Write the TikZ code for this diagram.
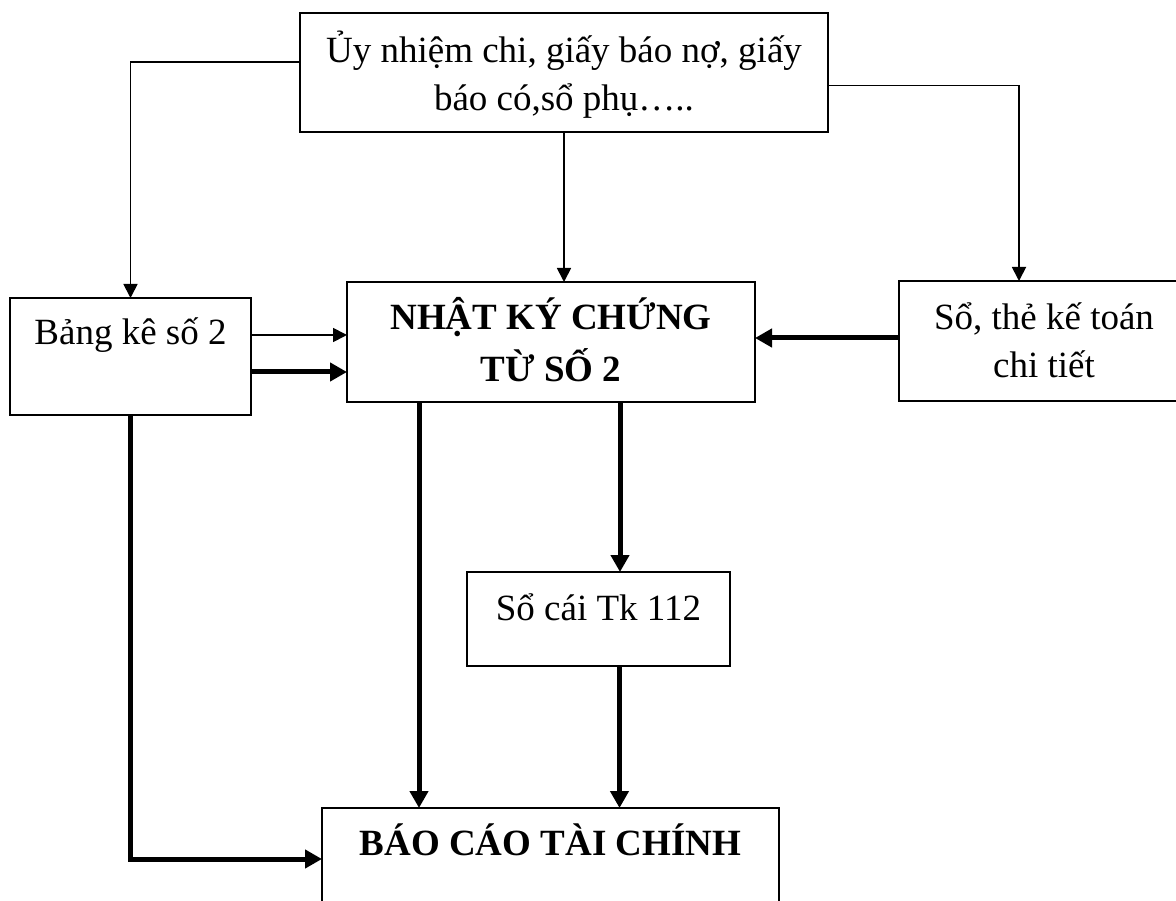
\documentclass[tikz,border=0pt]{standalone}
\usepackage{fontspec}
\setmainfont{Liberation Serif}
\usetikzlibrary{arrows.meta}
\newcommand{\tl}[1]{\begin{tabular}[t]{@{}c@{}}#1\end{tabular}}
\begin{document}
\begin{tikzpicture}[x=1pt,y=-1pt,
  box/.style={draw, line width=2pt, inner sep=0pt, outer sep=0pt, anchor=north west},
  txt/.style={inner sep=0pt, anchor=base, font=\fontsize{37}{48}\selectfont},
  btxt/.style={inner sep=0pt, anchor=base, font=\fontsize{37}{52}\selectfont\bfseries},
  thinarr/.style={line width=1.8pt, -{Triangle[length=14pt,width=14pt]}},
  thickarr/.style={line width=5pt, -{Triangle[length=17pt,width=18pt]}},
]
\useasboundingbox (0,0) rectangle (1176,901);
% boxes
\node[box, minimum width=528pt, minimum height=119pt] (top) at (300,13) {};
\node[box, minimum width=241pt, minimum height=117pt] (bk) at (10,298) {};
\node[box, minimum width=408pt, minimum height=120pt] (nk) at (347,282) {};
\node[box, minimum width=290pt, minimum height=120pt] (so) at (899,281) {};
\node[box, minimum width=263pt, minimum height=94pt] (sc) at (467,572) {};
\node[box, minimum width=457pt, minimum height=130pt] (bc) at (322,808) {};
% texts
\node[txt] (toptxt) at ([yshift=-50pt]top.north) {\tl{Ủy nhiệm chi, giấy báo nợ, giấy\\báo có,sổ phụ…..}};
\node[txt] (bktxt) at ([yshift=-47pt]bk.north) {Bảng kê số 2};
\node[btxt] (nktxt) at ([yshift=-48pt]nk.north) {\tl{NHẬT KÝ CHỨNG\\TỪ SỐ 2}};
\node[txt] (sotxt) at ([yshift=-49pt]so.north) {\tl{Sổ, thẻ kế toán\\chi tiết}};
\node[txt] (sctxt) at ([yshift=-48pt]sc.north) {Sổ cái Tk 112};
\node[btxt] (bctxt) at ([yshift=-47pt]bc.north) {BÁO CÁO TÀI CHÍNH};
% connectors
\draw[thinarr] ([yshift=10.5pt]top.west) -| (bk.north);
\draw[thinarr] (top.south) -- (top.south |- nk.north);
\draw[thinarr] ([yshift=-13pt]top.east) -| ([xshift=120pt]so.north west);
\draw[thinarr] ([yshift=21.5pt]bk.east) -- ([yshift=21.5pt]bk.east -| nk.west);
\draw[thickarr] ([yshift=-15.5pt]bk.east) -- ([yshift=-15.5pt]bk.east -| nk.west);
\draw[thickarr] ([yshift=3pt]so.west) -- ([yshift=3pt]so.west -| nk.east);
\draw[thickarr] ([xshift=72pt]nk.south west) -- ([xshift=72pt]nk.south west |- bc.north);
\draw[thickarr] ([xshift=273pt]nk.south west) -- ([xshift=273pt]nk.south west |- sc.north);
\draw[thickarr] ([xshift=21pt]sc.south) -- ([xshift=21pt]sc.south |- bc.north);
\draw[thickarr] (bk.south) |- ([yshift=-51pt]bc.north west);
\end{tikzpicture}
\end{document}
